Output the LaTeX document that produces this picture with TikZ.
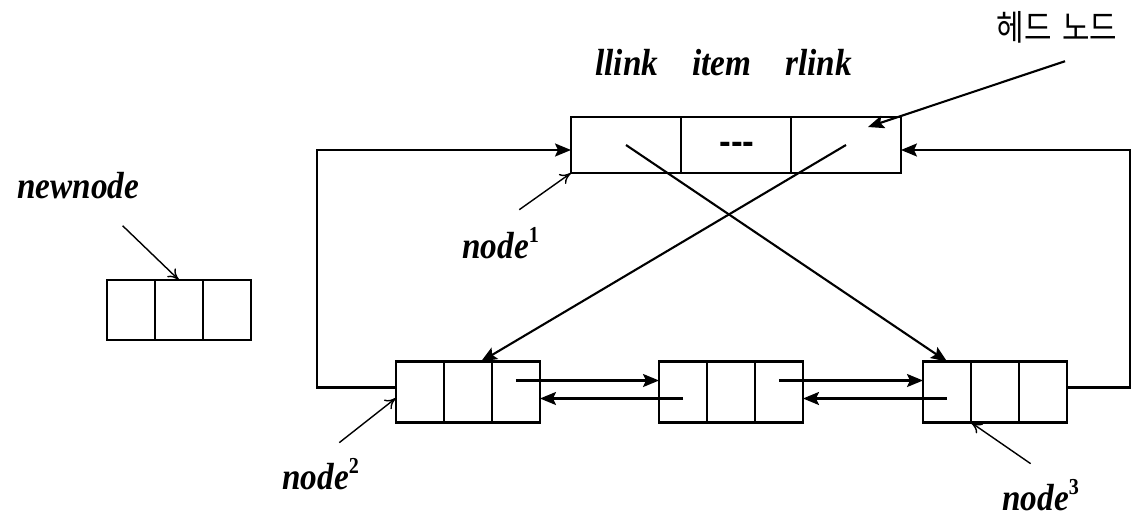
\documentclass[tikz,border=0pt]{standalone}
\usepackage{fontspec}
\setmainfont{Liberation Serif}
\newfontfamily\lblfont{Liberation Serif}[FakeStretch=0.88]
\newfontfamily\krfont{Noto Sans CJK KR}[FakeStretch=0.85]
\newfontfamily\dashfont{Liberation Sans}
\usetikzlibrary{positioning,arrows.meta}
\newcommand{\nodeidx}[1]{\raisebox{0.42em}{\upshape\fontsize{13}{13}\selectfont #1}}

\begin{document}
\begin{tikzpicture}[x=0.02cm,y=-0.02cm,
    cell/.style={draw,line width=1.4pt,minimum width=0.96cm,minimum height=1.22cm,inner sep=0pt,outer sep=0pt},
    hcell/.style={cell,minimum width=2.2cm,minimum height=1.12cm},
    lbl/.style={font=\lblfont\fontsize{21.5}{24}\selectfont\bfseries\itshape,inner sep=0pt,anchor=base west},
    link/.style={line width=1.2pt,-{Stealth[length=0.32cm,width=0.26cm,inset=0.06cm]}},
    ptr/.style={line width=0.8pt,-{To[length=0.22cm,width=0.24cm]}}]

    \useasboundingbox (0,0) rectangle (1131,517);

    % head node
    \node[hcell] (h1) at (626,145) {};
    \node[hcell,right=0pt of h1] (h2) {};
    \node[hcell,right=0pt of h2] (h3) {};
    \node[font=\dashfont\bfseries\fontsize{20}{22}\selectfont,inner sep=0pt] (hdash) at (737,148) {-{}-{}-};

    % list nodes
    \node[cell] (a1) at (420,392) {};
    \node[cell,right=0pt of a1] (a2) {};
    \node[cell,right=0pt of a2] (a3) {};
    \node[cell] (b1) at (683,392) {};
    \node[cell,right=0pt of b1] (b2) {};
    \node[cell,right=0pt of b2] (b3) {};
    \node[cell] (c1) at (947,392) {};
    \node[cell,right=0pt of c1] (c2) {};
    \node[cell,right=0pt of c2] (c3) {};

    % new node
    \node[cell,minimum height=1.2cm] (n1) at (131,310) {};
    \node[cell,minimum height=1.2cm,right=0pt of n1] (n2) {};
    \node[cell,minimum height=1.2cm,right=0pt of n2] (n3) {};

    % labels
    \node[lbl] (ltitle) at (595,75) {llink\hspace{0.9em}item\hspace{0.9em}rlink};
    \node[font=\krfont\fontsize{20}{22}\selectfont,inner sep=0pt] (lhead) at (1057,27) {헤드\hspace{0.3em}노드};
    \node[lbl] (lnew) at (17,198) {newnode};
    \node[lbl] (lnode1) at (462,258) {node\nodeidx{1}};
    \node[lbl] (lnode2) at (282,489) {node\nodeidx{2}};
    \node[lbl] (lnode3) at (1002,510) {node\nodeidx{3}};

    % head pointer
    \draw[link] ([xshift=0.16cm,yshift=-0.36cm]lhead.south) -- ([xshift=0.44cm,yshift=0.36cm]h3.center);

    % crossing links of the head node
    \draw[link] (h1.center) -- (c1.north);
    \draw[link] (h3.center) -- ([xshift=0.26cm]a2.north);

    % links back to the head node
    \draw[link] ([yshift=0.09cm]a1.west) -- ++(-79,0) |- ([yshift=-0.1cm]h1.west);
    \draw[link] ([yshift=0.09cm]c3.east) -- ++(63,0) |- ([yshift=-0.1cm]h3.east);

    % links between list nodes
    \draw[link] ([yshift=0.23cm]a3.center) -- ([yshift=0.23cm]b1.west);
    \draw[link] ([yshift=-0.13cm]b1.center) -- ([yshift=-0.13cm]a3.east);
    \draw[link] ([yshift=0.23cm]b3.center) -- ([yshift=0.23cm]c1.west);
    \draw[link] ([yshift=-0.13cm]c1.center) -- ([yshift=-0.13cm]b3.east);

    % name pointers
    \draw[ptr] ([xshift=-0.34cm,yshift=-0.54cm]lnew.south east) -- (n2.north);
    \draw[ptr] ([xshift=-0.4cm,yshift=0.34cm]lnode1.north east) -- (h1.south west);
    \draw[ptr] ([xshift=-0.4cm,yshift=0.3cm]lnode2.north east) -- ([yshift=-0.12cm]a1.west);
    \draw[ptr] ([xshift=-0.2cm,yshift=0.3cm]lnode3.north) -- (c1.south east);

\end{tikzpicture}
\end{document}
